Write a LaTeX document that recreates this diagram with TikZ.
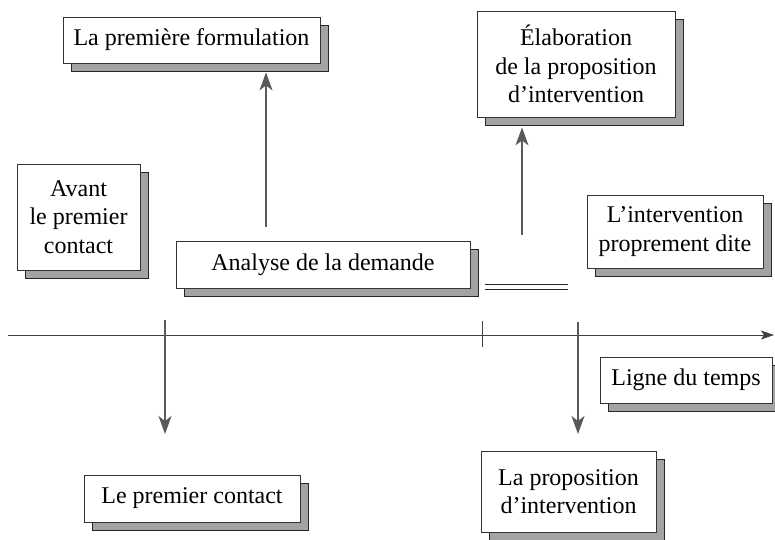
\documentclass[tikz,border=0pt]{standalone}
\usepackage{fontspec}
\setmainfont{Liberation Serif}
\usetikzlibrary{arrows.meta,positioning,shadows}
\tikzset{box/.style={draw=black!80, fill=white, line width=0.8pt, align=center,
    inner sep=0pt, font=\fontsize{24}{28.5}\selectfont,
    copy shadow={shadow xshift=8pt, shadow yshift=-8pt, fill=black!36, draw=black!85, line width=0.9pt}}}

\begin{document}
\begin{tikzpicture}[x=1pt,y=-1pt,
    arr/.style={draw=black!65, line width=1.4pt, -{Stealth[length=18pt,width=13pt,inset=5pt]}},
    axis/.style={draw=black!75, line width=1pt}]
   \useasboundingbox (0,0) rectangle (775,539);
   \node[box,minimum width=257pt,minimum height=46pt] (form) at (191.5,40) {La première formulation};
   \node[box,minimum width=198pt,minimum height=106pt] (elab) at (576,64) {Élaboration\\de la proposition\\d’intervention};
   \node[box,minimum width=123pt,minimum height=106pt] (avant) at (78.5,217) {Avant\\le premier\\contact};
   \node[box,minimum width=294pt,minimum height=47pt] (anal) at (323,264.5) {Analyse de la demande};
   \node[box,minimum width=176pt,minimum height=73pt] (interv) at (675,231.5) {L’intervention\\proprement dite};
   \node[box,minimum width=172pt,minimum height=46pt] (ligne) at (686,380) {Ligne du temps};
   \node[box,minimum width=216pt,minimum height=47pt] (contact) at (192,498.5) {Le premier contact};
   \node[box,minimum width=175pt,minimum height=81pt] (propo) at (568.5,491.5) {La proposition\\d’intervention};
   % ligne du temps
   \coordinate (t_0) at (8,335);
   \coordinate (t_1) at (774,335);
   \draw[axis,-{Stealth[length=13pt,width=9pt,inset=3pt]}] (t_0) -- (t_1);
   \coordinate (k_0) at (482,321);
   \coordinate (k_1) at (482,347);
   \draw[axis] (k_0) -- (k_1);
   % double trait
   \coordinate (d_0) at (485,287);
   \coordinate (d_1) at (568,287);
   \draw[black!85, line width=1pt, double, double distance=4.5pt] (d_0) -- (d_1);
   % fleches
   \coordinate (u_0) at (266,227);
   \coordinate (u_1) at (522,235);
   \coordinate (v_0) at (165,320);
   \coordinate (v_0e) at (165,434);
   \coordinate (v_1) at (578,322);
   \coordinate (v_1e) at (578,434);
   \draw[arr,shorten >=9pt] (u_0) -- (u_0 |- form.south);
   \draw[arr,shorten >=10pt] (u_1) -- (u_1 |- elab.south);
   \draw[arr] (v_0) -- (v_0e);
   \draw[arr] (v_1) -- (v_1e);
\end{tikzpicture}
\end{document}
